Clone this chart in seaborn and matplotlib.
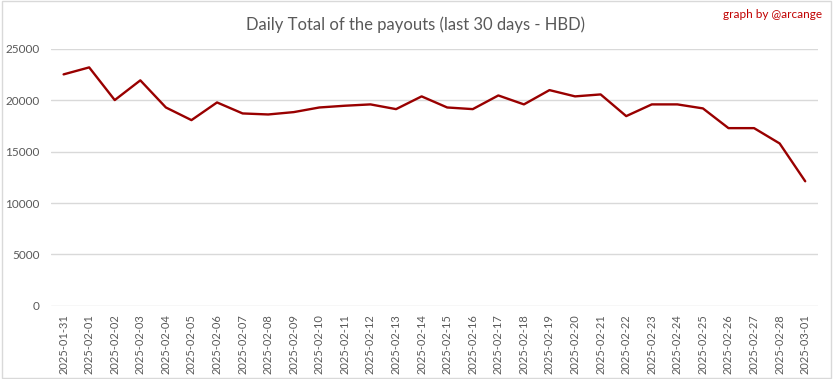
import pandas as pd
import matplotlib.pyplot as plt
import seaborn as sns
from matplotlib.patches import Rectangle

dates = ['2025-01-31', '2025-02-01', '2025-02-02', '2025-02-03', '2025-02-04',
         '2025-02-05', '2025-02-06', '2025-02-07', '2025-02-08', '2025-02-09',
         '2025-02-10', '2025-02-11', '2025-02-12', '2025-02-13', '2025-02-14',
         '2025-02-15', '2025-02-16', '2025-02-17', '2025-02-18', '2025-02-19',
         '2025-02-20', '2025-02-21', '2025-02-22', '2025-02-23', '2025-02-24',
         '2025-02-25', '2025-02-26', '2025-02-27', '2025-02-28', '2025-03-01']
payouts = [22520, 23200, 20020, 21940, 19300, 18070, 19790, 18720, 18620, 18850,
           19300, 19470, 19600, 19140, 20380, 19300, 19140, 20470, 19600, 20990,
           20380, 20570, 18460, 19600, 19600, 19210, 17290, 17290, 15800, 12120]
y_ticks = [0, 5000, 10000, 15000, 20000, 25000]

df = pd.DataFrame({'Date': dates, 'HBD': payouts})

sns.set_style('white')
plt.rcParams['font.family'] = ['Lato', 'DejaVu Sans']

fig = plt.figure(figsize=(8.33, 3.79), dpi=100)
ax = fig.add_axes([0.061, 0.193, 0.921, 0.678])

sns.lineplot(data=df, x='Date', y='HBD', color='#990000', linewidth=1.7, ax=ax, sort=False)

ax.set_xlim(-0.5, len(dates) - 0.5)
ax.set_ylim(0, 25000)
ax.set_yticks(y_ticks)
ax.set_yticklabels([str(v) for v in y_ticks])
ax.yaxis.grid(True, color='#d9d9d9', linewidth=1)
ax.set_axisbelow(True)
for s in ax.spines.values():
    s.set_visible(False)
ax.tick_params(axis='y', length=0, colors='#595959', labelsize=8.5, pad=8)
ax.tick_params(axis='x', length=0, colors='#595959', labelsize=8, pad=6)
plt.xticks(rotation=90)
ax.set_xlabel('')
ax.set_ylabel('')

fig.text(0.499, 0.935, 'Daily Total of the payouts (last 30 days - HBD)',
         ha='center', va='center', fontsize=12, color='#595959')
fig.text(0.987, 0.963, 'graph by @arcange', ha='right', va='center',
         fontsize=8.5, color='#c00000')

# light border around the whole picture
fig.patches.append(Rectangle((0.002, 0.003), 0.995, 0.994, transform=fig.transFigure,
                             fill=False, edgecolor='#d9d9d9', linewidth=1))

fig.savefig('out.png', dpi=100)
